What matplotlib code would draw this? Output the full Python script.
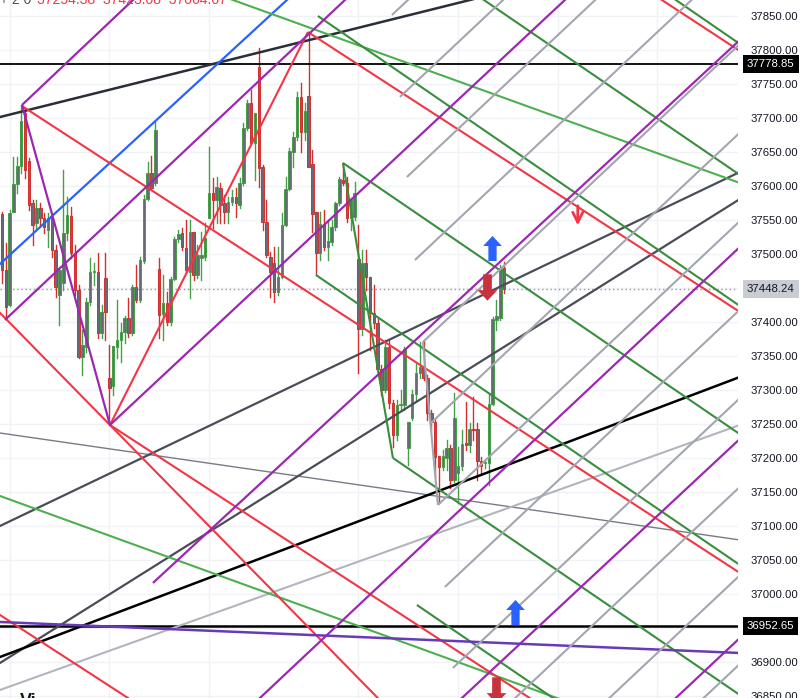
import numpy as np
import matplotlib.pyplot as plt
from matplotlib.path import Path
from matplotlib.transforms import blended_transform_factory

# 15-min candles (bar index = position)
opens = [37559, 37476, 37425, 37562, 37603, 37629, 37707, 37637, 37575, 37546,
         37568, 37553, 37535, 37554, 37506, 37440, 37457, 37531, 37556, 37501,
         37447, 37349, 37363, 37429, 37474, 37474, 37384, 37465, 37318, 37306,
         37363, 37374, 37385, 37406, 37384, 37451, 37432, 37490, 37581, 37619,
         37604, 37478, 37412, 37428, 37400, 37463, 37522, 37531, 37509, 37474,
         37532, 37469, 37494, 37496, 37553, 37590, 37579, 37597, 37575, 37562,
         37576, 37584, 37572, 37604, 37685, 37722, 37663, 37775, 37628, 37547,
         37496, 37487, 37444, 37466, 37543, 37596, 37650, 37672, 37731, 37679,
         37732, 37632, 37562, 37501, 37544, 37510, 37518, 37540, 37575, 37609,
         37604, 37553, 37554, 37493, 37390, 37487, 37466, 37413, 37398, 37331,
         37300, 37363, 37281, 37234, 37278, 37278, 37215, 37259, 37294, 37325,
         37334, 37318, 37266, 37253, 37203, 37187, 37200, 37215, 37168, 37178,
         37188, 37222, 37219, 37242, 37242, 37196, 37193, 37193, 37279, 37403,
         37406, 37479]
closes = [37476, 37422, 37560, 37603, 37629, 37696, 37624, 37572, 37543, 37568,
          37553, 37540, 37553, 37506, 37451, 37476, 37531, 37557, 37501, 37447,
          37349, 37366, 37429, 37474, 37475, 37384, 37415, 37415, 37303, 37365,
          37374, 37385, 37406, 37384, 37451, 37432, 37491, 37581, 37619, 37597,
          37682, 37410, 37428, 37400, 37463, 37522, 37529, 37510, 37476, 37532,
          37469, 37499, 37499, 37524, 37590, 37579, 37599, 37572, 37562, 37576,
          37584, 37575, 37604, 37685, 37722, 37663, 37707, 37626, 37547, 37499,
          37474, 37444, 37466, 37543, 37596, 37651, 37672, 37731, 37679, 37710,
          37628, 37559, 37501, 37544, 37510, 37519, 37540, 37575, 37610, 37604,
          37553, 37579, 37590, 37390, 37487, 37466, 37413, 37398, 37331, 37300,
          37363, 37281, 37234, 37278, 37279, 37360, 37253, 37294, 37325, 37334,
          37318, 37266, 37253, 37201, 37187, 37203, 37215, 37168, 37259, 37188,
          37221, 37219, 37242, 37241, 37196, 37188, 37194, 37279, 37404, 37409,
          37479, 37448]
highs = [37562, 37516, 37565, 37643, 37643, 37719, 37715, 37641, 37579, 37579,
         37575, 37560, 37560, 37560, 37513, 37481, 37624, 37584, 37569, 37513,
         37454, 37388, 37435, 37494, 37487, 37501, 37425, 37501, 37366, 37365,
         37432, 37398, 37409, 37435, 37454, 37484, 37496, 37587, 37635, 37644,
         37694, 37494, 37469, 37444, 37466, 37525, 37535, 37538, 37550, 37550,
         37532, 37513, 37532, 37546, 37657, 37612, 37613, 37604, 37587, 37584,
         37594, 37597, 37612, 37692, 37726, 37741, 37707, 37803, 37631, 37579,
         37503, 37510, 37510, 37560, 37613, 37656, 37679, 37738, 37751, 37722,
         37826, 37653, 37562, 37562, 37565, 37550, 37550, 37576, 37613, 37634,
         37613, 37582, 37606, 37543, 37506, 37506, 37466, 37454, 37406, 37337,
         37373, 37373, 37285, 37285, 37300, 37363, 37253, 37300, 37340, 37371,
         37373, 37322, 37271, 37256, 37203, 37212, 37226, 37219, 37296, 37216,
         37241, 37282, 37251, 37290, 37251, 37201, 37197, 37296, 37407, 37432,
         37484, 37488]
lows = [37457, 37406, 37423, 37562, 37590, 37619, 37612, 37565, 37513, 37535,
        37543, 37531, 37510, 37496, 37437, 37396, 37447, 37521, 37494, 37440,
        37347, 37322, 37356, 37425, 37454, 37377, 37377, 37374, 37249, 37293,
        37347, 37341, 37369, 37378, 37381, 37429, 37429, 37487, 37579, 37594,
        37601, 37377, 37374, 37396, 37396, 37462, 37518, 37506, 37474, 37435,
        37462, 37465, 37462, 37491, 37553, 37538, 37546, 37546, 37546, 37546,
        37572, 37554, 37568, 37601, 37682, 37663, 37609, 37598, 37535, 37496,
        37437, 37429, 37440, 37465, 37541, 37594, 37628, 37668, 37650, 37668,
        37628, 37532, 37469, 37491, 37506, 37491, 37513, 37535, 37572, 37601,
        37547, 37535, 37550, 37325, 37381, 37447, 37359, 37391, 37329, 37293,
        37297, 37274, 37216, 37226, 37271, 37271, 37190, 37256, 37285, 37318,
        37315, 37256, 37241, 37172, 37134, 37182, 37182, 37156, 37165, 37134,
        37182, 37212, 37209, 37226, 37168, 37175, 37185, 37160, 37278, 37388,
        37403, 37443]

last_price = 37448.24
level_hi = 37778.85
level_lo = 36952.65
grid_prices = list(range(36850, 37851, 50))
# 37450 and 36950 are hidden behind the price tags
label_prices = [p for p in grid_prices if p not in (37450, 36950)]
day_bars = [2, 28, 54, 93, 119, 145, 171]

# drawings: (bar0, price0, bar1, price1, extend)
red_lines = [(5.22, 37717.6, 192.49, 37030.9, 'right'),
             (28.17, 37248.5, 79.81, 37826.4, 'none'),
             (79.81, 37826.4, 192.49, 37414.7, 'right'),
             (28.17, 37248.5, 192.49, 36645.9, 'right'),
             (0.78, 37405.9, 28.17, 37248.5, 'both'),
             (172.14, 37873.5, 192.49, 37798.5, 'both'),
             (-0.52, 36969.1, 32.86, 36847.0, 'both')]
purple_lines = [(5.22, 37719.1, 28.17, 37248.5, 'none'),
                (5.22, 37719.1, 34.17, 37873.5, 'right'),
                (0.78, 37403.0, 89.46, 37873.5, 'right'),
                (28.17, 37248.5, 146.84, 37873.5, 'right'),
                (39.38, 37016.2, 192.49, 37814.7, 'right'),
                (67.29, 36847.0, 192.49, 37510.3, 'both'),
                (119.98, 36847.0, 192.49, 37228.0, 'both'),
                (176.06, 36848.5, 192.49, 36935.3, 'both')]
green_lines = [(88.94, 37633.8, 101.98, 37200.0, 'none'),
               (88.94, 37633.8, 192.49, 37235.0, 'right'),
               (81.90, 37469.1, 192.49, 37042.6, 'right'),
               (101.98, 37200.0, 192.49, 36851.4, 'right'),
               (82.42, 37850.0, 192.49, 37423.5, 'right'),
               (108.24, 36983.8, 192.49, 36659.0, 'right'),
               (125.72, 37873.5, 192.49, 37616.2, 'both'),
               (175.80, 37873.5, 192.49, 37808.8, 'both')]
lightgreen_lines = [(60.25, 37873.5, 192.49, 37604.4, 'both'),
                    (-0.52, 37144.1, 144.76, 36847.0, 'both')]
dark_lines = [(-0.52, 37701.4, 122.07, 37873.5, 'both'),
              (-0.52, 37100.0, 192.49, 37620.6, 'both'),
              (-0.52, 36898.5, 192.49, 37580.8, 'both')]
blue_lines = [(-0.52, 37485.3, 74.33, 37873.5, 'both')]
black_lines = [(-0.52, 36907.3, 192.49, 37319.1, 'both')]
thin_lines = [(-0.52, 37236.7, 192.49, 37079.4, 'both')]
lightgray_lines = [(-0.52, 36858.8, 192.49, 37248.5, 'both')]
indigo_lines = [(-0.52, 36958.8, 192.49, 36913.2, 'both')]
gray_handle = [(109.81, 37370.6, 113.72, 37130.9, 'none')]
gray_starts_bar = [101.72, 103.81, 105.63, 107.72, 109.81, 111.63, 113.72,
                   115.55, 117.63, 119.46, 121.54, 123.37]
gray_starts_price = [37851.4, 37730.9, 37613.2, 37491.1, 37370.6, 37250.0,
                     37130.9, 37010.3, 36891.2, 36770.5, 36651.4, 36530.8]
gray_slope = 5.30  # price per bar

up_marks = [(127.8, 37508.8), (133.8, 36973.5)]
down_marks = [(126.5, 37451.4), (128.8, 36858.8)]
open_arrow = (150.2, 37575, 37538)


def draw(ax, segs, color, lw=1.5, z=3):
    for x0, p0, x1, p1, ext in segs:
        k = (p1 - p0) / (x1 - x0)
        xa, pa, xb, pb = x0, p0, x1, p1
        if ext in ('right', 'both'):
            xb, pb = 200, p0 + k * (200 - x0)
        if ext == 'both':
            xa, pa = -5, p0 + k * (-5 - x0)
        ax.plot([xa, xb], [pa, pb], color=color, lw=lw, zorder=z,
                solid_capstyle='butt')


fig = plt.figure(figsize=(8.02, 6.98), dpi=100)
ax = fig.add_axes([0, 0, 738 / 802, 1])
ax.set_xlim(-0.52, 192.0)
ax.set_ylim(36847.0, 37873.5)
for s in ax.spines.values():
    s.set_visible(False)

for p in grid_prices:
    ax.axhline(p, color='#f0f2f6', lw=1, zorder=0)
for b in day_bars:
    ax.axvline(b, color='#f0f2f6', lw=1, zorder=0)
ax.set_yticks(label_prices)
ax.set_yticklabels(['%.2f' % t for t in label_prices])
ax.yaxis.tick_right()
ax.tick_params(axis='y', length=0, pad=9, labelsize=8.2, labelcolor='#131722')
for lab in ax.get_yticklabels():
    lab.set_family('Liberation Sans')
ax.set_xticks([])

# candles
bull_c, bear_c = '#43a047', '#d32f2f'
for i in range(len(opens)):
    o, h, l, c = opens[i], highs[i], lows[i], closes[i]
    col = bull_c if c >= o else bear_c
    ax.plot([i, i], [l, h], color=col, lw=1, zorder=2)
    lo, hi = min(o, c), max(o, c)
    ax.bar(i, max(hi - lo, 1.2), bottom=lo, width=0.66, color='#686b75',
           edgecolor=col, lw=0.7, zorder=2.5)

# horizontal levels
ax.axhline(level_hi, color='#000000', lw=1.3, zorder=3)
ax.axhline(level_lo, color='#000000', lw=1.8, zorder=3)
ax.axhline(last_price, color='#9598a1', lw=1, ls=(0, (1, 2)), zorder=1)

draw(ax, thin_lines, '#787b86', lw=1)
draw(ax, lightgray_lines, '#b2b5be', lw=1.5)
draw(ax, dark_lines[:1], '#2a2e39', lw=1.8)
draw(ax, dark_lines[1:], '#4a4d57', lw=1.6)
draw(ax, black_lines, '#000000', lw=1.8)
draw(ax, blue_lines, '#2962ff', lw=1.6)
draw(ax, lightgreen_lines, '#4caf50', lw=1.5)
draw(ax, green_lines, '#388e3c', lw=1.5)
draw(ax, red_lines, '#f23645', lw=1.5)
draw(ax, purple_lines, '#9c27b0', lw=1.6)
draw(ax, indigo_lines, '#673ab7', lw=1.8)
draw(ax, gray_handle, '#a3a6af', lw=1.5)
for gb, gp in zip(gray_starts_bar, gray_starts_price):
    ax.plot([gb, 200], [gp, gp + gray_slope * (200 - gb)], color='#a3a6af',
            lw=1.5, zorder=3, solid_capstyle='butt')

# arrow marks
up_arrow = Path([(0, 1), (0.75, 0.2), (0.33, 0.2), (0.33, -1), (-0.33, -1),
                 (-0.33, 0.2), (-0.75, 0.2), (0, 1)])
down_arrow = Path([(0, -1), (0.75, -0.2), (0.33, -0.2), (0.33, 1), (-0.33, 1),
                   (-0.33, -0.2), (-0.75, -0.2), (0, -1)])
for bx, py in up_marks:
    ax.plot(bx, py, marker=up_arrow, ms=18, color='#2962ff', mec='none',
            zorder=5)
for bx, py in down_marks:
    ax.plot(bx, py, marker=down_arrow, ms=19, color='#c8323c', mec='none',
            zorder=5)
ax.annotate('', xy=(open_arrow[0], open_arrow[2]),
            xytext=(open_arrow[0], open_arrow[1]),
            arrowprops=dict(arrowstyle='->', color='#f23645', lw=2,
                            mutation_scale=18), zorder=5)

# price-axis tags
tr = blended_transform_factory(ax.transAxes, ax.transData)
for val, fc, tc in [(level_hi, '#000000', 'white'),
                    (last_price, '#c9ccd3', '#131722'),
                    (level_lo, '#000000', 'white')]:
    ax.text(1.0 + 9 / 738, val, '%.2f' % val, transform=tr, ha='left',
            va='center', fontsize=8.2, family='Liberation Sans', color=tc,
            bbox=dict(boxstyle='square,pad=0.35', fc=fc, ec='none'),
            clip_on=False, zorder=6)

# legend remains at the top, cut by the frame
fig.text(0.0, 1.0, '+ 2 0', color='#50535e', fontsize=10, va='center',
         family='Liberation Sans')
fig.text(37 / 802, 1.0, '37254.38  37423.08  37064.67', color='#f23645',
         fontsize=10, va='center', family='Liberation Sans')
fig.text(20 / 802, 5 / 698, 'Vi', color='#131722', fontsize=13,
         fontweight='bold', va='top', family='Liberation Sans')

fig.savefig('out.png', dpi=100)
